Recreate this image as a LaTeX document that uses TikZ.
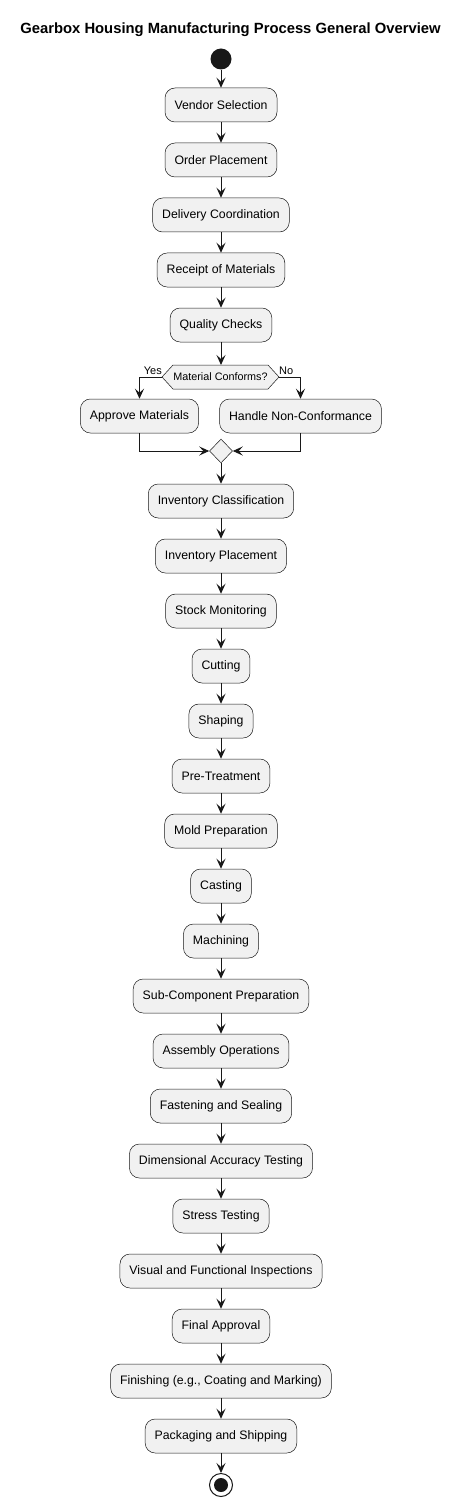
\documentclass[tikz,border=0pt]{standalone}
\usepackage{fontspec}
\setmainfont{Liberation Sans}
\usetikzlibrary{arrows.meta,shapes.geometric}
\definecolor{boxfill}{HTML}{F1F1F1}
\definecolor{ink}{HTML}{181818}
\begin{document}
\begin{tikzpicture}[x=1pt,y=-1pt,
  act/.style={draw=ink,line width=0.5pt,fill=boxfill,rounded corners=10pt,minimum height=34pt,inner xsep=9.5pt,font=\fontsize{12.3}{14}\selectfont},
  flow/.style={draw=ink,line width=1pt,-{Stealth[length=10pt,width=9pt,inset=4pt]}},
  lbl/.style={font=\fontsize{11}{12}\selectfont,inner sep=0pt}]
\useasboundingbox (0,0) rectangle (463,1506);
\node[font=\bfseries\fontsize{14.8}{17}\selectfont] (title) at (230.5,30) {Gearbox Housing Manufacturing Process General Overview};
\node[circle,fill=ink,minimum size=21pt,inner sep=0pt] (start) at (221,59) {};
\node[act] (n1) at (221,105) {Vendor Selection};
\node[act] (n2) at (221,160) {Order Placement};
\node[act] (n3) at (221,215) {Delivery Coordination};
\node[act] (n4) at (221,270) {Receipt of Materials};
\node[act] (n5) at (221,325) {Quality Checks};
% decision hexagon
\draw[draw=ink,line width=0.5pt,fill=boxfill] (162,377) -- (173,365) -- (268,365) -- (279,377) -- (268,389) -- (173,389) -- cycle;
\node[font=\fontsize{10.8}{12}\selectfont,inner sep=0pt] (dec) at (220.5,377) {Material Conforms?};
\coordinate (dl) at (162,377);
\coordinate (dr) at (279,377);
\coordinate (dtop) at (221,365);
\node[act] (a) at (139.5,416) {Approve Materials};
\node[act] (h) at (300.5,416) {Handle Non-Conformance};
\node[diamond,draw=ink,line width=0.5pt,fill=boxfill,minimum width=23pt,minimum height=24pt,inner sep=0pt] (m) at (221,451) {};
\node[lbl,anchor=south east] (yes) at (162,374.5) {Yes};
\node[lbl,anchor=south west] (no) at (279,374.5) {No};
\node[act] (n6) at (221,501) {Inventory Classification};
\node[act] (n7) at (221,556) {Inventory Placement};
\node[act] (n8) at (221,611) {Stock Monitoring};
\node[act] (n9) at (221,666) {Cutting};
\node[act] (n10) at (221,721) {Shaping};
\node[act] (n11) at (221,776) {Pre-Treatment};
\node[act] (n12) at (221,831) {Mold Preparation};
\node[act] (n13) at (221,886) {Casting};
\node[act] (n14) at (221,941) {Machining};
\node[act] (n15) at (221,996) {Sub-Component Preparation};
\node[act] (n16) at (221,1051) {Assembly Operations};
\node[act] (n17) at (221,1106) {Fastening and Sealing};
\node[act] (n18) at (221,1161) {Dimensional Accuracy Testing};
\node[act] (n19) at (221,1216) {Stress Testing};
\node[act] (n20) at (221,1271) {Visual and Functional Inspections};
\node[act] (n21) at (221,1326) {Final Approval};
\node[act] (n22) at (221,1381) {Finishing (e.g., Coating and Marking)};
\node[act] (n23) at (221,1436) {Packaging and Shipping};
\node[circle,draw=ink,line width=1pt,fill=white,minimum size=23pt,inner sep=0pt] (endo) at (221,1485) {};
\node[circle,fill=ink,minimum size=14pt,inner sep=0pt] (endi) at (221,1485) {};
% connectors
\draw[flow] (start) -- (n1);
\draw[flow] (n1) -- (n2);
\draw[flow] (n2) -- (n3);
\draw[flow] (n3) -- (n4);
\draw[flow] (n4) -- (n5);
\draw[flow] (n5) -- (dtop);
\draw[flow] (dl) -| (a);
\draw[flow] (dr) -| (h);
\draw[flow] (a) |- (m);
\draw[flow] (h) |- (m);
\draw[flow] (m) -- (n6);
\draw[flow] (n6) -- (n7);
\draw[flow] (n7) -- (n8);
\draw[flow] (n8) -- (n9);
\draw[flow] (n9) -- (n10);
\draw[flow] (n10) -- (n11);
\draw[flow] (n11) -- (n12);
\draw[flow] (n12) -- (n13);
\draw[flow] (n13) -- (n14);
\draw[flow] (n14) -- (n15);
\draw[flow] (n15) -- (n16);
\draw[flow] (n16) -- (n17);
\draw[flow] (n17) -- (n18);
\draw[flow] (n18) -- (n19);
\draw[flow] (n19) -- (n20);
\draw[flow] (n20) -- (n21);
\draw[flow] (n21) -- (n22);
\draw[flow] (n22) -- (n23);
\draw[flow] (n23) -- (endo);
\end{tikzpicture}
\end{document}
